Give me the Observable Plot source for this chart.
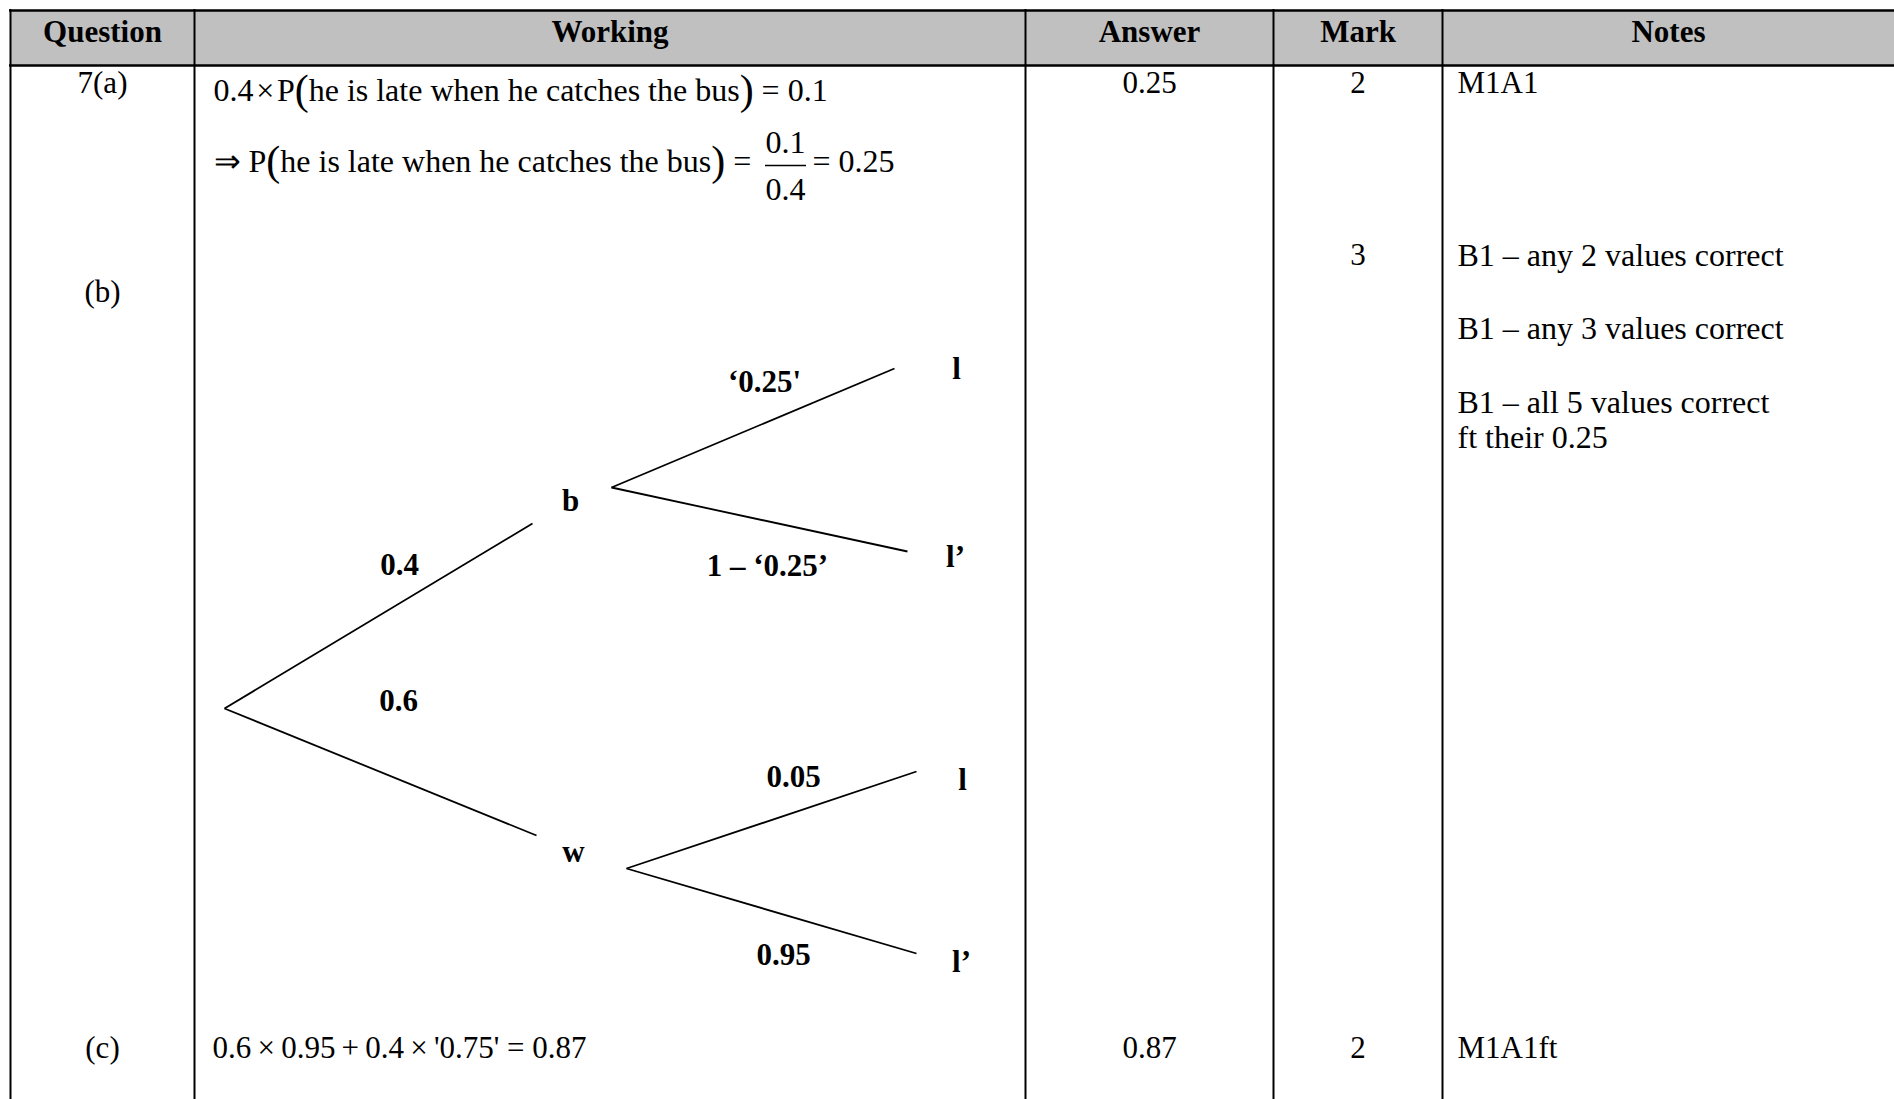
<!DOCTYPE html>
<html><head><meta charset="utf-8">
<script src="https://cdn.jsdelivr.net/npm/d3@7"></script>
<script src="https://cdn.jsdelivr.net/npm/@observablehq/plot@0.6"></script>
<style>html,body{margin:0;padding:0;background:#fff}svg{display:block}</style>
</head><body><div id="chart"></div>
<script>
// ---- content ----
const headers = ["Question", "Working", "Answer", "Mark", "Notes"];
const questions = ["7(a)", "(b)", "(c)"];
const answers = ["0.25", "", "0.87"];
const marks = ["2", "3", "2"];
const notesA = ["M1A1"];
const notesB = ["B1 – any 2 values correct", "B1 – any 3 values correct", "B1 – all 5 values correct", "ft their 0.25"];
const notesC = ["M1A1ft"];
const eventText = "he is late when he catches the bus";
const workingA1 = ["0.4\u200a×\u200aP", "(", eventText, ")", " = 0.1"];
const workingA2 = ["⇒ P", "(", eventText, ")", " ="];
const fraction = ["0.1", "0.4"];
const fractionResult = ["= 0.25"];
const workingC = ["0.6\u2009×\u20090.95\u2009+\u20090.4\u2009×\u2009'0.75' = 0.87"];
// tree: first stage (bus / walk), second stage (late / not late)
const stage1 = ["b", "w"];
const stage1Probs = ["0.4", "0.6"];
const stage2 = ["l", "l’", "l", "l’"];
const stage2Probs = ["‘0.25'", "1 – ‘0.25’", "0.05", "0.95"];

// ---- layout (pixels) ----
const W = 1894, H = 1099;
const colEdges = [10, 194, 1025, 1273, 1442, W];
const headerTop = 10, headerBottom = 65;
const rowY = {a: 83, b: 255, bq: 292, c: 1048};
const notesX = 1457;
const colMid = i => (colEdges[i] + colEdges[i + 1]) / 2;
const serif = "'Liberation Serif', 'Times New Roman', Times, serif";
const bodySize = 31, eqSize = 32, parenSize = 42;

// measure text to lay out equation pieces one after another
const ctx = document.createElement("canvas").getContext("2d");
function pieces(parts, x0, y) {
  let x = x0;
  return parts.map(t => {
    const size = (t === "(" || t === ")") ? parenSize : eqSize;
    ctx.font = `${size}px ${serif}`;
    const w = ctx.measureText(t).width;
    const d = {t, x, y, size};
    x += w;
    return d;
  });
}

// tree layout
const root = {x: 224, y: 708};
const s1Layout = [
  {inX: 532, inY: 523, outX: 611, outY: 487, lx: 570, ly: 501, px: 399, py: 565},
  {inX: 536, inY: 835, outX: 626, outY: 868, lx: 573, ly: 852, px: 398, py: 701}
];
const s2Layout = [
  {from: 0, ex: 894, ey: 368, lx: 956, ly: 369, px: 764, py: 382},
  {from: 0, ex: 907, ey: 551, lx: 955, ly: 557, px: 767, py: 566},
  {from: 1, ex: 916, ey: 771, lx: 962, ly: 780, px: 793, py: 777},
  {from: 1, ex: 916, ey: 953, lx: 961, ly: 962, px: 783, py: 955}
];

// ---- tables for marks ----
const headerCells = headers.map((t, i) => ({t, x: colMid(i), y: 32}));
const rowKeys = ["a", "b", "c"];
const qCells = questions.map((t, i) => ({t, x: colMid(0), y: rowKeys[i] === "b" ? rowY.bq : rowY[rowKeys[i]]}));
const ansCells = answers.map((t, i) => ({t, x: colMid(2), y: rowY[rowKeys[i]]}));
const markCells = marks.map((t, i) => ({t, x: colMid(3), y: rowY[rowKeys[i]]}));
const noteYB = [255, 328, 402, 437];
const noteCells = [
  ...notesA.map(t => ({t, y: rowY.a, size: bodySize})),
  ...notesB.map((t, i) => ({t, y: noteYB[i], size: 32})),
  ...notesC.map(t => ({t, y: rowY.c, size: bodySize}))
].map(d => ({...d, x: notesX}));
const eqPieces = [
  ...pieces(workingA1, 213, 90),
  ...pieces(workingA2, 213, 161)
];
const workC = [{t: workingC[0], x: 212, y: rowY.c}];
const fracCells = [
  {t: fraction[0], x: 785, y: 142},
  {t: fraction[1], x: 785, y: 189}
];
const fracRest = [{t: fractionResult[0], x: 812, y: 161}];
const fracBar = [{y: 165, x1: 765, x2: 806}];

const branches = [
  ...s1Layout.map(s => ({x1: root.x, y1: root.y, x2: s.inX, y2: s.inY})),
  ...s2Layout.map(s => ({x1: s1Layout[s.from].outX, y1: s1Layout[s.from].outY, x2: s.ex, y2: s.ey}))
];
const treeLabels = [
  ...stage1.map((t, i) => ({t, x: s1Layout[i].lx, y: s1Layout[i].ly})),
  ...stage1Probs.map((t, i) => ({t, x: s1Layout[i].px, y: s1Layout[i].py})),
  ...stage2.map((t, i) => ({t, x: s2Layout[i].lx, y: s2Layout[i].ly})),
  ...stage2Probs.map((t, i) => ({t, x: s2Layout[i].px, y: s2Layout[i].py}))
];

const chart = Plot.plot({
  width: W, height: H, margin: 0,
  x: {domain: [0, W], range: [0, W], axis: null},
  y: {domain: [0, H], range: [0, H], axis: null},
  style: {fontFamily: serif, background: "#fff", color: "#000"},
  marks: [
    Plot.rect([{x1: colEdges[0], x2: W, y1: headerTop, y2: headerBottom}], {x1: "x1", x2: "x2", y1: "y1", y2: "y2", fill: "#c0c0c0"}),
    Plot.ruleX(colEdges.slice(0, 5), {x: d => d, y1: headerTop - 1, y2: H, stroke: "#000", strokeWidth: 2}),
    Plot.ruleY([headerTop, headerBottom], {y: d => d, x1: colEdges[0] - 1, x2: W, stroke: "#000", strokeWidth: 2.5}),
    Plot.text(headerCells, {x: "x", y: "y", text: "t", fontSize: 31, fontWeight: "bold", fill: "#000"}),
    Plot.text(qCells, {x: "x", y: "y", text: "t", fontSize: bodySize, fill: "#000"}),
    Plot.text(ansCells, {x: "x", y: "y", text: "t", fontSize: bodySize, fill: "#000"}),
    Plot.text(markCells, {x: "x", y: "y", text: "t", fontSize: bodySize, fill: "#000"}),
    Plot.text(noteCells, {x: "x", y: "y", text: "t", fontSize: "size", textAnchor: "start", fill: "#000"}),
    Plot.text(eqPieces, {x: "x", y: "y", text: "t", fontSize: "size", textAnchor: "start", fill: "#000"}),
    Plot.text(workC, {x: "x", y: "y", text: "t", fontSize: bodySize, textAnchor: "start", fill: "#000"}),
    Plot.text(fracCells, {x: "x", y: "y", text: "t", fontSize: eqSize, fill: "#000"}),
    Plot.text(fracRest, {x: "x", y: "y", text: "t", fontSize: eqSize, textAnchor: "start", fill: "#000"}),
    Plot.ruleY(fracBar, {y: "y", x1: "x1", x2: "x2", stroke: "#000", strokeWidth: 1.5}),
    Plot.link(branches, {x1: "x1", y1: "y1", x2: "x2", y2: "y2", stroke: "#000", strokeWidth: 1.8}),
    Plot.text(treeLabels, {x: "x", y: "y", text: "t", fontSize: 31, fontWeight: "bold", fill: "#000"})
  ]
});
document.getElementById("chart").appendChild(chart);
</script>
</body></html>
